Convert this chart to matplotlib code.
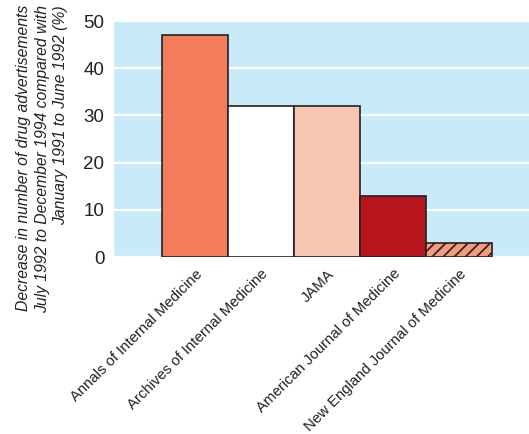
import matplotlib
matplotlib.use("Agg")
import matplotlib.pyplot as plt

journals = ["Annals of Internal Medicine", "Archives of Internal Medicine", "JAMA",
            "American Journal of Medicine", "New England Journal of Medicine"]
decrease = [47, 32, 32, 13, 3]
colors = ["#F27C5C", "#FFFFFF", "#F9C6B2", "#B8141B", "#F59A7A"]
hatches = ["", "", "", "", "///"]
yticks = [0, 10, 20, 30, 40, 50]

plt.rcParams['font.family'] = ['Liberation Sans', 'DejaVu Sans']
plt.rcParams['hatch.linewidth'] = 1.2

fig = plt.figure(figsize=(5.29, 4.34), dpi=100)
ax = fig.add_axes([0.2155, 0.4078, 0.7845, 0.5438])
ax.set_facecolor("#C8EAF9")

x = range(len(journals))
ax.bar(x, decrease, width=1.0, color=colors, edgecolor="#222222", linewidth=1.2,
       hatch=hatches, zorder=3)

ax.set_xlim(-1.227, 5.06)
ax.set_ylim(0, 50)
ax.set_yticks(yticks)
ax.set_yticklabels([str(v) for v in yticks], fontsize=13.5, color="#222222")
ax.yaxis.grid(True, color="white", linewidth=1.6, zorder=1)
ax.set_axisbelow(True)
ax.tick_params(length=0, pad=7)
for s in ax.spines.values():
    s.set_visible(False)

ax.set_xticks(list(x))
ax.set_xticklabels(journals, rotation=45, ha="right", va="top", fontsize=10.7,
                   color="#222222", rotation_mode="anchor")
ax.tick_params(axis="x", pad=7)

fig.text(0.08, 0.988, "Decrease in number of drug advertisements\n"
         "July 1992 to December 1994 compared with\n"
         "January 1991 to June 1992 (%)",
         rotation=90, ha="center", va="top", multialignment="right",
         fontsize=11.3, style="italic", color="#222222", linespacing=1.3)

fig.savefig("out.png", dpi=100)
